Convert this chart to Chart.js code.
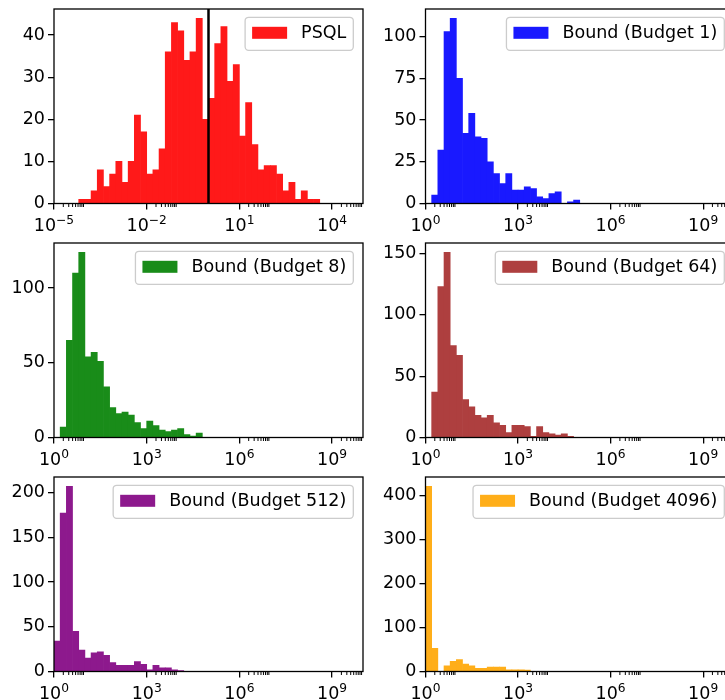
<!DOCTYPE html>
<html>
<head>
<meta charset="utf-8">
<title>Bound histograms</title>
<script src="https://cdn.jsdelivr.net/npm/chart.js@4.4.1/dist/chart.umd.min.js"></script>
<style>
  html, body { margin: 0; padding: 0; background: #fff; overflow: hidden; }
  #fig { position: relative; width: 725px; height: 700px; overflow: hidden; }
  .panel { position: absolute; width: 383px; height: 234px; }
</style>
</head>
<body>
<div id="fig">
  <div class="panel" style="left:0px;top:0px"><canvas id="psql"></canvas></div>
  <div class="panel" style="left:371px;top:0px"><canvas id="b1"></canvas></div>
  <div class="panel" style="left:0px;top:234px"><canvas id="b8"></canvas></div>
  <div class="panel" style="left:371px;top:234px"><canvas id="b64"></canvas></div>
  <div class="panel" style="left:0px;top:468px"><canvas id="b512"></canvas></div>
  <div class="panel" style="left:371px;top:468px"><canvas id="b4096"></canvas></div>
</div>
<script>
// --- data: histogram counts per bin, bins are 0.2 decades wide (log10 axis) ---
const BIN_WIDTH = 0.2;

const psqlStart = -4.2;   // log10 of the left edge of the first bin
const psqlCounts = [1, 1, 3, 8, 4, 7, 10, 5, 10, 21, 17, 7, 8, 13, 36, 43, 41, 34, 36, 44, 20,
                    25, 38, 42, 29, 33, 16, 24, 14, 8, 9, 9, 7, 3, 5, 1, 3, 1, 1];
const psqlMarker = 0;     // vertical reference line at 10^0

const b1Start = 0.2;
const b1Counts = [5, 32, 103, 111, 75, 42, 54, 40, 39, 25, 18, 12, 18, 8, 8, 10, 9, 4, 3, 6, 7, 0, 1, 2];

const b8Start = 0.2;
const b8Counts = [7, 65, 110, 124, 54, 57, 51, 34, 20, 16, 17, 15, 10, 6, 11, 8, 5, 4, 5, 6, 2, 1, 3];

const b64Start = 0.2;
const b64Counts = [37, 123, 151, 75, 67, 31, 25, 18, 16, 18, 12, 10, 4, 10, 10, 9, 1, 9, 4, 3, 2, 3, 1];

const b512Start = 0;
const b512Counts = [34, 177, 207, 45, 24, 15, 21, 22, 18, 10, 7, 7, 7, 11, 8, 2, 7, 4, 4, 2, 1];

const b4096Start = 0;
const b4096Counts = [422, 53, 0, 13, 23, 27, 17, 13, 7, 7, 10, 10, 10, 4, 4, 4, 3];

// tick positions (x in log10 units)
const psqlXTicks = [-5, -2, 1, 4];
const boundXTicks = [0, 3, 6, 9];
const psqlXRange = [-5, 5];
const boundXRange = [0, 10];

const psqlYTicks = [0, 10, 20, 30, 40];
const b1YTicks = [0, 25, 50, 75, 100];
const b8YTicks = [0, 50, 100];
const b64YTicks = [0, 50, 100, 150];
const b512YTicks = [0, 50, 100, 150, 200];
const b4096YTicks = [0, 100, 200, 300, 400];

const FS = 17.5;
const FONT = { family: 'DejaVu Sans', size: FS };

// spines, minor log ticks (2..9 x 10^k for each labelled decade) and 10^k labels
const axesDecor = {
    id: 'axesDecor',
    afterDraw(chart) {
        const { ctx, chartArea: a } = chart;
        const xs = chart.scales.x;
        ctx.save();
        ctx.strokeStyle = '#000';
        ctx.lineWidth = 1;
        ctx.beginPath();
        xs.ticks.forEach(t => {
            for (let m = 2; m <= 9; m++) {
                const v = t.value + Math.log10(m);
                if (v > xs.max) continue;
                const px = xs.getPixelForValue(v);
                ctx.moveTo(px, a.bottom);
                ctx.lineTo(px, a.bottom + 3.5);
            }
        });
        ctx.stroke();
        ctx.lineWidth = 1.3;
        ctx.strokeRect(a.left, a.top, a.right - a.left, a.bottom - a.top);

        // mathtext-like "10" with a raised, smaller exponent
        ctx.fillStyle = '#000';
        ctx.textBaseline = 'alphabetic';
        ctx.textAlign = 'left';
        const baseFont = FS + 'px "DejaVu Sans"';
        const supFont = (FS * 0.7) + 'px "DejaVu Sans"';
        const yBase = a.bottom + 27.5;
        xs.ticks.forEach(t => {
            const exp = String(t.value).replace('-', '\u2212');
            ctx.font = baseFont;
            const wb = ctx.measureText('10').width;
            ctx.font = supFont;
            const we = ctx.measureText(exp).width;
            const x0 = xs.getPixelForValue(t.value) - (wb + we) / 2;
            ctx.font = baseFont;
            ctx.fillText('10', x0, yBase);
            ctx.font = supFont;
            ctx.fillText(exp, x0 + wb, yBase - 7);
        });
        ctx.restore();
    }
};

// matplotlib-like legend box in the upper right corner
const legendBox = {
    id: 'legendBox',
    afterDraw(chart) {
        const ds = chart.data.datasets.find(d => d.label);
        const { ctx, chartArea: a } = chart;
        ctx.save();
        ctx.font = FS + 'px "DejaVu Sans"';
        const tw = ctx.measureText(ds.label).width;
        const pad = 0.4 * FS, hl = 2 * FS, hp = 0.8 * FS;
        const w = pad + hl + hp + tw + pad, h = 33;
        const x = a.right - 9.7 - w, y = a.top + 8.3;
        ctx.beginPath();
        ctx.roundRect(x, y, w, h, 3.5);
        ctx.fillStyle = 'rgba(255,255,255,0.8)';
        ctx.fill();
        ctx.lineWidth = 1.3;
        ctx.strokeStyle = '#cccccc';
        ctx.stroke();
        ctx.fillStyle = ds.backgroundColor;
        ctx.fillRect(x + pad, y + h / 2 - 7, hl, 12);
        ctx.fillStyle = '#000';
        ctx.textBaseline = 'middle';
        ctx.fillText(ds.label, x + pad + hl + hp, y + h / 2);
        ctx.restore();
    }
};

function makePanel(id, o) {
    const yMax = Math.max(...o.counts) * 1.05;
    const datasets = [{
        type: 'bar',
        label: o.label,
        data: o.counts.map((c, i) => ({ x: o.start + (i + 0.5) * BIN_WIDTH, y: c })),
        backgroundColor: o.color,
        borderWidth: 0,
        barPercentage: 1,
        categoryPercentage: 1,
        grouped: false,
        order: 1
    }];
    if (o.marker !== undefined) {
        datasets.push({
            type: 'line',
            data: [{ x: o.marker, y: 0 }, { x: o.marker, y: yMax }],
            borderColor: '#000',
            borderWidth: 2.5,
            pointRadius: 0,
            order: 0
        });
    }
    new Chart(document.getElementById(id), {
        type: 'bar',
        data: { datasets },
        plugins: [axesDecor, legendBox],
        options: {
            responsive: true,
            maintainAspectRatio: false,
            animation: false,
            events: [],
            layout: { padding: { top: 9, right: 20, left: 0, bottom: 0 } },
            plugins: { legend: { display: false }, tooltip: { enabled: false } },
            scales: {
                x: {
                    type: 'linear',
                    min: o.xRange[0],
                    max: o.xRange[1],
                    offset: false,
                    afterBuildTicks: s => { s.ticks = o.xTicks.map(v => ({ value: v })); },
                    afterFit: s => { s.height = 30.5; s.paddingLeft = 0; s.paddingRight = 0; },
                    ticks: { display: false, autoSkip: false },
                    grid: { display: true, drawOnChartArea: false, offset: false, tickLength: 6,
                            tickColor: '#000', lineWidth: 1.3, tickWidth: 1.3 },
                    border: { display: false }
                },
                y: {
                    min: 0,
                    max: yMax,
                    afterBuildTicks: s => { s.ticks = o.yTicks.map(v => ({ value: v })); },
                    afterFit: s => { s.width = o.yWidth; s.paddingTop = 0; s.paddingBottom = 0; },
                    ticks: { font: FONT, color: '#000', padding: 3 },
                    grid: { display: true, drawOnChartArea: false, tickLength: 6,
                            tickColor: '#000', lineWidth: 1.3, tickWidth: 1.3 },
                    border: { display: false }
                }
            }
        }
    });
}

makePanel('psql', { label: 'PSQL', color: 'rgb(255,25,25)', start: psqlStart, counts: psqlCounts,
    marker: psqlMarker, xTicks: psqlXTicks, xRange: psqlXRange, yTicks: psqlYTicks, yWidth: 54 });
makePanel('b1', { label: 'Bound (Budget 1)', color: 'rgb(25,25,255)', start: b1Start, counts: b1Counts,
    xTicks: boundXTicks, xRange: boundXRange, yTicks: b1YTicks, yWidth: 54.5 });
makePanel('b8', { label: 'Bound (Budget 8)', color: 'rgb(25,140,25)', start: b8Start, counts: b8Counts,
    xTicks: boundXTicks, xRange: boundXRange, yTicks: b8YTicks, yWidth: 54 });
makePanel('b64', { label: 'Bound (Budget 64)', color: 'rgb(174,63,63)', start: b64Start, counts: b64Counts,
    xTicks: boundXTicks, xRange: boundXRange, yTicks: b64YTicks, yWidth: 54.5 });
makePanel('b512', { label: 'Bound (Budget 512)', color: 'rgb(141,25,141)', start: b512Start, counts: b512Counts,
    xTicks: boundXTicks, xRange: boundXRange, yTicks: b512YTicks, yWidth: 54 });
makePanel('b4096', { label: 'Bound (Budget 4096)', color: 'rgb(255,174,25)', start: b4096Start, counts: b4096Counts,
    xTicks: boundXTicks, xRange: boundXRange, yTicks: b4096YTicks, yWidth: 54.5 });
</script>
</body>
</html>
